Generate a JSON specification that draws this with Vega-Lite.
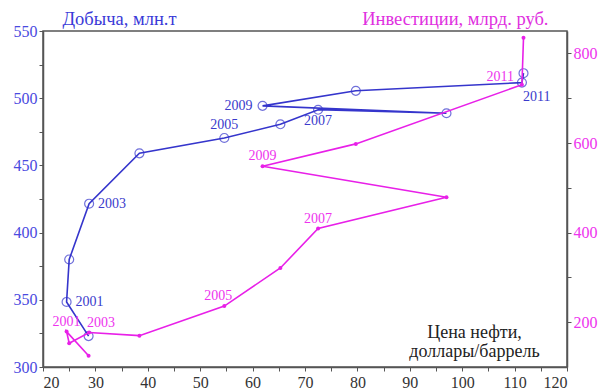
{
  "$schema": "https://vega.github.io/schema/vega-lite/v6.json",
  "width": 524,
  "height": 336,
  "autosize": {"type": "none"},
  "padding": {"left": 43, "top": 31, "right": 36, "bottom": 24},
  "background": "white",
  "config": {
    "view": {"stroke": "#555555", "strokeWidth": 1.5},
    "font": "Liberation Serif",
    "text": {"font": "Liberation Serif", "fontSize": 14},
    "axis": {
      "grid": false,
      "domainColor": "#555555",
      "domainWidth": 1.5,
      "tickColor": "#555555",
      "tickSize": 4,
      "labelFont": "Liberation Serif",
      "labelFontSize": 16,
      "titleFont": "Liberation Serif",
      "titleFontWeight": "normal",
      "titleFontSize": 18.5
    }
  },
  "data": {
    "values": [
      {"year": 2000, "price": 28.7, "production": 323.0, "investment": 125},
      {"year": 2001, "price": 24.5, "production": 348.4, "investment": 179},
      {"year": 2002, "price": 25.0, "production": 380.0, "investment": 153},
      {"year": 2003, "price": 28.8, "production": 421.5, "investment": 177},
      {"year": 2004, "price": 38.4, "production": 459.0, "investment": 170},
      {"year": 2005, "price": 54.6, "production": 470.4, "investment": 236},
      {"year": 2006, "price": 65.3, "production": 480.6, "investment": 321},
      {"year": 2007, "price": 72.5, "production": 491.4, "investment": 409},
      {"year": 2008, "price": 97.0, "production": 488.8, "investment": 479},
      {"year": 2009, "price": 61.9, "production": 494.3, "investment": 548},
      {"year": 2010, "price": 79.7, "production": 505.5, "investment": 598},
      {"year": 2011, "price": 111.4, "production": 511.6, "investment": 730},
      {"year": 2012, "price": 111.7, "production": 518.6, "investment": 835}
    ]
  },
  "encoding": {
    "x": {
      "field": "price",
      "type": "quantitative",
      "scale": {"domain": [20, 120], "nice": false, "zero": false},
      "axis": {
        "values": [20, 25, 30, 35, 40, 45, 50, 55, 60, 65, 70, 75, 80, 85, 90, 95, 100, 105, 110, 115, 120],
        "labelExpr": "datum.value % 10 == 0 ? datum.label : ''",
        "labelFont": "Liberation Serif",
        "labelColor": "#333333",
        "labelPadding": 3,
        "title": ["Цена нефти,", "доллары/баррель"],
        "titleFont": "Liberation Serif",
        "titleColor": "#222222",
        "titleFontSize": 18,
        "titleAlign": "center",
        "titleBaseline": "middle",
        "titleLineHeight": 19.5,
        "titleX": 431,
        "titleY": -35
      }
    }
  },
  "layer": [
    {
      "encoding": {
        "y": {
          "field": "production",
          "type": "quantitative",
          "scale": {"domain": [300, 550], "nice": false, "zero": false},
          "axis": {
            "orient": "left",
            "values": [300, 325, 350, 375, 400, 425, 450, 475, 500, 525, 550],
            "labelExpr": "datum.value % 50 == 0 ? datum.label : ''",
            "labelFont": "Liberation Serif",
            "labelColor": "#4a4ae0",
            "labelPadding": 2,
            "title": "Добыча, млн.т",
            "titleFont": "Liberation Serif",
            "titleColor": "#3a3ad8",
            "titleAngle": 0,
            "titleAlign": "left",
            "titleBaseline": "middle",
            "titleX": 19,
            "titleY": -13
          }
        }
      },
      "layer": [
        {
          "mark": {"type": "line", "color": "#3535cc", "strokeWidth": 1.6},
          "encoding": {"order": {"field": "year", "type": "quantitative"}}
        },
        {
          "mark": {"type": "point", "shape": "circle", "filled": false, "color": "#3535cc", "size": 80, "strokeWidth": 1.2}
        },
        {
          "transform": [{"filter": "datum.year == 2001 || datum.year == 2003"}],
          "mark": {"type": "text", "align": "left", "baseline": "middle", "dx": 9, "color": "#3a3acc"},
          "encoding": {"text": {"field": "year", "type": "ordinal"}}
        },
        {
          "transform": [{"filter": "datum.year == 2005"}],
          "mark": {"type": "text", "align": "center", "baseline": "middle", "dy": -12.5, "color": "#3a3acc"},
          "encoding": {"text": {"field": "year", "type": "ordinal"}}
        },
        {
          "transform": [{"filter": "datum.year == 2007"}],
          "mark": {"type": "text", "align": "center", "baseline": "middle", "dy": 11, "color": "#3a3acc"},
          "encoding": {"text": {"field": "year", "type": "ordinal"}}
        },
        {
          "transform": [{"filter": "datum.year == 2009"}],
          "mark": {"type": "text", "align": "right", "baseline": "middle", "dx": -10, "color": "#3a3acc"},
          "encoding": {"text": {"field": "year", "type": "ordinal"}}
        },
        {
          "transform": [{"filter": "datum.year == 2011"}],
          "mark": {"type": "text", "align": "left", "baseline": "middle", "dx": 1, "dy": 14, "color": "#3a3acc"},
          "encoding": {"text": {"field": "year", "type": "ordinal"}}
        }
      ]
    },
    {
      "encoding": {
        "y": {
          "field": "investment",
          "type": "quantitative",
          "scale": {"domain": [100, 850], "nice": false, "zero": false},
          "axis": {
            "orient": "right",
            "values": [200, 300, 400, 500, 600, 700, 800],
            "labelExpr": "datum.value % 200 == 0 ? datum.label : ''",
            "labelFont": "Liberation Serif",
            "labelColor": "#ee33ee",
            "labelPadding": 2,
            "title": "Инвестиции, млрд. руб.",
            "titleFont": "Liberation Serif",
            "titleColor": "#e030e0",
            "titleAngle": 0,
            "titleAlign": "right",
            "titleBaseline": "middle",
            "titleX": -19,
            "titleY": -13
          }
        }
      },
      "layer": [
        {
          "mark": {"type": "line", "color": "#e820e8", "strokeWidth": 1.6},
          "encoding": {"order": {"field": "year", "type": "quantitative"}}
        },
        {
          "mark": {"type": "point", "shape": "circle", "filled": true, "opacity": 1, "color": "#e820e8", "size": 16}
        },
        {
          "transform": [{"filter": "datum.year == 2001"}],
          "mark": {"type": "text", "align": "center", "baseline": "middle", "dy": -9.5, "color": "#ee33ee"},
          "encoding": {"text": {"field": "year", "type": "ordinal"}}
        },
        {
          "transform": [{"filter": "datum.year == 2003"}],
          "mark": {"type": "text", "align": "left", "baseline": "middle", "dx": -2, "dy": -10, "color": "#ee33ee"},
          "encoding": {"text": {"field": "year", "type": "ordinal"}}
        },
        {
          "transform": [{"filter": "datum.year == 2005"}],
          "mark": {"type": "text", "align": "center", "baseline": "middle", "dx": -6, "dy": -10, "color": "#ee33ee"},
          "encoding": {"text": {"field": "year", "type": "ordinal"}}
        },
        {
          "transform": [{"filter": "datum.year == 2007 || datum.year == 2009"}],
          "mark": {"type": "text", "align": "center", "baseline": "middle", "dy": -10, "color": "#ee33ee"},
          "encoding": {"text": {"field": "year", "type": "ordinal"}}
        },
        {
          "transform": [{"filter": "datum.year == 2011"}],
          "mark": {"type": "text", "align": "right", "baseline": "middle", "dx": -8, "dy": -8, "color": "#ee33ee"},
          "encoding": {"text": {"field": "year", "type": "ordinal"}}
        }
      ]
    }
  ],
  "resolve": {"scale": {"y": "independent"}}
}
